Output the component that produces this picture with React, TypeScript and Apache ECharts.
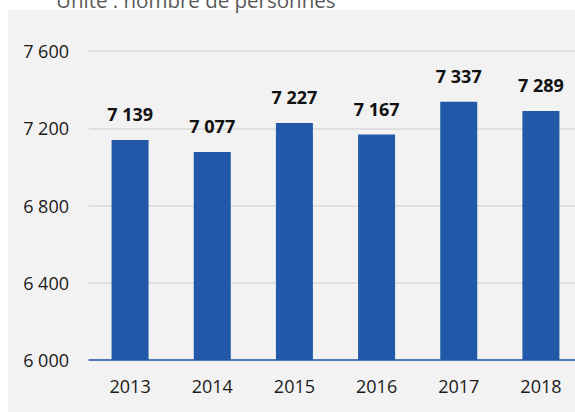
import React, { useEffect, useRef } from "react";
import * as echarts from "echarts";

const categories = ["2013", "2014", "2015", "2016", "2017", "2018"];
const values = [7139, 7077, 7227, 7167, 7337, 7289];
const yTicks = { min: 6000, max: 7600, interval: 400 };
const unitLabel = "Unité : nombre de personnes";

const fmt = (v: number) => {
  const s = String(Math.round(v));
  return s.replace(/\B(?=(\d{3})+(?!\d))/g, " ");
};

export default function App() {
  const ref = useRef<HTMLDivElement>(null);
  useEffect(() => {
    if (!ref.current) return;
    const chart = echarts.init(ref.current, null, { renderer: "svg" });
    const font = "'Open Sans', 'Noto Sans', sans-serif";
    chart.setOption({
      animation: false,
      graphic: [
        {
          type: "rect",
          z: -10,
          shape: { x: 8, y: 10, width: 700, height: 500 },
          style: { fill: "#f2f2f2" },
          silent: true,
        },
        {
          type: "text",
          x: 56,
          y: 10.5,
          style: {
            text: unitLabel,
            fontFamily: font,
            fontSize: 20.5,
            fill: "#595959",
            verticalAlign: "bottom",
            align: "left",
          },
        },
      ],
      grid: { left: 89, right: 18, top: 51, bottom: 52, containLabel: false },
      xAxis: {
        type: "category",
        data: categories,
        axisLine: { show: true, lineStyle: { color: "#2159a8", width: 1.5 } },
        axisTick: { show: false },
        axisLabel: { color: "#1a1a1a", fontSize: 18, fontFamily: font, margin: 17 },
      },
      yAxis: {
        type: "value",
        min: yTicks.min,
        max: yTicks.max,
        interval: yTicks.interval,
        axisLine: { show: false },
        axisTick: { show: false },
        splitLine: { lineStyle: { color: "#d9d9d9", width: 1.5 } },
        axisLabel: {
          color: "#1a1a1a",
          fontSize: 18,
          fontFamily: font,
          margin: 20,
          formatter: (v: number) => fmt(v),
        },
      },
      series: [
        {
          type: "bar",
          data: values,
          barWidth: 37,
          itemStyle: { color: "#2159a8" },
          label: {
            show: true,
            position: "top",
            distance: 17,
            color: "#111",
            fontSize: 18,
            fontWeight: "bold",
            fontFamily: font,
            formatter: (p: any) => fmt(p.value),
          },
        },
      ],
    });
    return () => chart.dispose();
  }, []);
  return (
    <div
      style={{
        position: "absolute",
        left: 0,
        top: 0,
        width: 575,
        height: 412,
        overflow: "hidden",
        background: "#fff",
      }}
    >
      <div ref={ref} style={{ width: 600, height: 412 }} />
    </div>
  );
}
